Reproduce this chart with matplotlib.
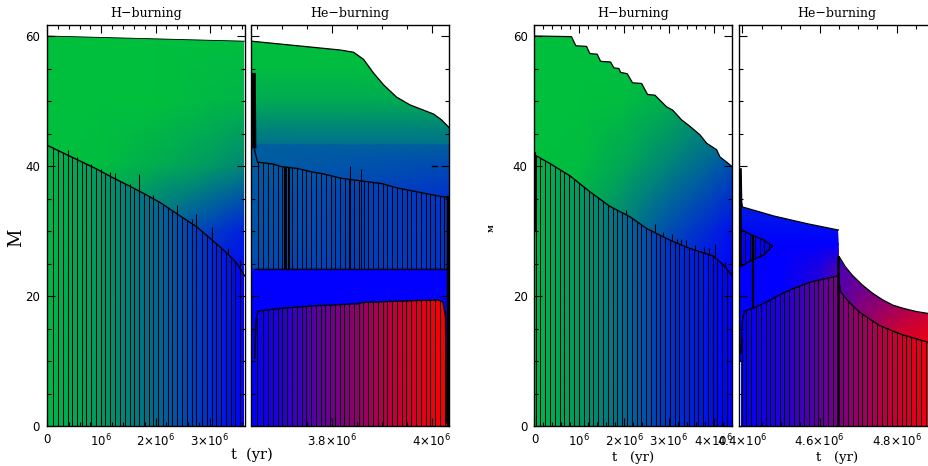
import numpy as np
import matplotlib
matplotlib.use("Agg")
import matplotlib.pyplot as plt
from matplotlib.colors import LinearSegmentedColormap
from matplotlib.patches import Polygon
from matplotlib.ticker import FixedLocator

plt.rcParams['mathtext.default'] = 'regular'
plt.rcParams['font.family'] = 'DejaVu Sans'

# t in units of 1e6 yr, M in solar masses, c: 0 green, 0.5 blue, 1 red
# ---- panel 1 : H-burning, left star
p1_surf_t = [0, 3.64]
p1_surf_m = [60.0, 59.2]
p1_core_t = [0, .3, .6, .9, 1.19, 1.5, 1.8, 2.1, 2.42, 2.75, 3.03, 3.33, 3.5, 3.64]
p1_core_m = [43.2, 42.0, 40.8, 39.6, 38.3, 37.0, 35.7, 34.3, 32.5, 30.7, 28.7, 26.5, 25.0, 23.1]
p1_hatch = [.11, .203, .289, .381, .467, .552, .638, .724, .816, .902, .988, 1.074, 1.166, 1.258,
            1.35, 1.436, 1.522, 1.608, 1.70, 1.786, 1.872, 1.958, 2.05, 2.136, 2.222, 2.308, 2.40,
            2.486, 2.578, 2.664, 2.75, 2.848, 2.94, 3.033, 3.118, 3.204, 3.296, 3.382, 3.462, 3.548]
p1_spike_t = [.11, .381, .552, .638, .816, .988, 1.166, 1.258, 1.522, 1.70, 1.958, 2.40, 2.664, 2.75, 3.033, 3.33, 3.548]
p1_spike_m = [42.9, 42.46, 41.4, 40.8, 40.3, 39.6, 39.1, 38.9, 37.3, 38.8, 35.5, 34.0, 31.9, 32.6, 30.6, 27.4, 25.5]
p1_core_ct = [0, 1, 2, 3, 3.64]
p1_core_c = [.02, .1, .22, .38, .5]
p1_env_t = [0, 1, 2, 3, 3.64]
p1_env_m = [20, 30, 40, 50, 61]
p1_env_c = [[0, .2, .35, .48, .5],
            [0, .1, .22, .34, .42],
            [0, .01, .05, .1, .15],
            [0, 0, 0, .02, .03],
            [0, 0, 0, 0, 0]]

# ---- panel 2 : He-burning, left star
p2_surf_t = [3.639, 3.816, 3.843, 3.863, 3.883, 3.903, 3.929, 3.956, 4.003, 4.019, 4.033, 4.034]
p2_surf_m = [59.2, 57.85, 57.5, 56.4, 54.3, 52.5, 50.6, 49.4, 48.0, 47.1, 46.0, 45.9]
p2_shell_t = [3.639, 3.645, 3.651, 3.682, 3.699, 3.732, 3.759, 3.782, 3.819, 3.859, 3.899, 3.932, 3.972, 4.012, 4.029, 4.034]
p2_shell_m = [54.0, 42.5, 40.6, 40.3, 39.9, 39.6, 39.1, 38.8, 38.1, 37.7, 37.3, 36.6, 36.0, 35.4, 35.2, 35.1]
p2_shell_base = 24.2
p2_shell_hatch = [3.651, 3.661, 3.671, 3.681, 3.691, 3.70, 3.703, 3.705, 3.708, 3.711, 3.713, 3.72,
                  3.73, 3.739, 3.747, 3.757, 3.767, 3.777, 3.787, 3.797, 3.805, 3.815, 3.825, 3.834,
                  3.844, 3.853, 3.863, 3.872, 3.881, 3.891, 3.901, 3.91, 3.919, 3.929, 3.939, 3.949,
                  3.958, 3.967, 3.977, 3.987, 3.996, 4.005, 4.015, 4.024]
p2_spike_t = [3.835, 3.857]
p2_spike_m = [40.0, 39.6]
p2_he_t = [3.6454, 3.648, 3.652, 3.699, 3.765, 3.852, 3.859, 3.965, 4.012, 4.022, 4.027, 4.029]
p2_he_m = [10.4, 16.3, 17.7, 18.1, 18.5, 18.8, 19.0, 19.3, 19.4, 19.1, 16.8, .5]
p2_he_hatch = [3.649, 3.662, 3.671, 3.681, 3.691, 3.70, 3.709, 3.719, 3.729, 3.739, 3.748, 3.757,
               3.767, 3.777, 3.786, 3.796, 3.805, 3.815, 3.824, 3.834, 3.843, 3.853, 3.862, 3.872,
               3.881, 3.891, 3.901, 3.91, 3.919, 3.929, 3.939, 3.948, 3.957, 3.967, 3.977, 3.987,
               3.996, 4.005, 4.015, 4.025]
p2_he_ct = [3.639, 3.7, 3.8, 3.9, 4.0, 4.034]
p2_he_c = [.5, .58, .72, .85, .97, 1.0]
p2_env_t = [3.639, 4.034]
p2_env_m = [0, 24.0, 24.4, 30, 36, 40, 43.3, 43.5, 46, 50, 55, 61]
p2_env_c = [[.5, .5], [.5, .5], [.3, .36], [.28, .36], [.27, .36], [.26, .31], [.25, .25],
            [.2, .2], [.15, .15], [.06, .06], [.01, .01], [0, 0]]

# ---- panel 3 : H-burning, right star
p3_surf_t = [0, .825, .922, 1.16, 1.234, 1.398, 1.473, 1.696, 1.77, 1.882, 1.919, 2.068, 2.187, 2.388,
             2.522, 2.685, 2.946, 3.08, 3.28, 3.467, 3.69, 3.839, 4.062, 4.136, 4.322, 4.405]
p3_surf_m = [60.0, 59.9, 58.5, 58.4, 57.3, 57.2, 56.1, 56.0, 55.1, 55.0, 54.4, 54.2, 52.8, 52.7,
             51.0, 50.9, 49.1, 48.6, 47.1, 46.1, 44.8, 43.5, 42.5, 41.4, 40.4, 39.9]
p3_core_t = [0, .029, .34, .788, 1.234, 1.68, 2.127, 2.5, 3.02, 3.467, 3.987, 4.21, 4.405]
p3_core_m = [41.9, 41.6, 40.4, 38.5, 36.05, 33.8, 32.2, 30.4, 28.6, 27.3, 26.15, 24.8, 23.2]
p3_hatch = [.029, .133, .245, .349, .453, .565, .669, .773, .885, .989, 1.093, 1.205, 1.309, 1.42,
            1.524, 1.629, 1.74, 1.844, 1.949, 2.06, 2.164, 2.276, 2.38, 2.484, 2.596, 2.7, 2.804,
            2.909, 3.013, 3.124, 3.228, 3.333, 3.444, 3.548, 3.652, 3.764, 3.868, 3.973, 4.077, 4.188, 4.292]
p3_spike_t = [2.03, 2.685, 2.87, 3.06, 3.18, 3.26, 3.39, 3.59, 3.78, 3.89, 4.02, 4.25]
p3_spike_m = [33.3, 31.1, 29.9, 29.6, 28.8, 28.7, 28.6, 27.9, 27.5, 27.4, 28.0, 25.2]
p3_core_ct = [0, 1, 2, 3, 4.405]
p3_core_c = [.02, .1, .22, .36, .5]
p3_env_t = [0, 1, 2, 3, 4, 4.405]
p3_env_m = [20, 30, 40, 50, 61]
p3_env_c = [[0, .1, .3, .42, .5, .5],
            [0, .05, .17, .3, .41, .46],
            [0, .01, .07, .16, .25, .3],
            [0, 0, .01, .05, .11, .15],
            [0, 0, 0, 0, .02, .05]]

# ---- panel 4 : He-burning, right star
p4_surf_t = [4.391, 4.394, 4.397, 4.398, 4.40, 4.482, 4.57, 4.649, 4.651, 4.667, 4.685, 4.711, 4.738,
             4.764, 4.79, 4.817, 4.852, 4.894, 4.91]
p4_surf_m = [39.7, 39.5, 38.0, 34.5, 33.7, 32.3, 31.1, 30.15, 26.05, 24.5, 23.2, 21.7, 20.4,
             19.4, 18.6, 18.1, 17.6, 17.2, 17.0]
p4_core_t = [4.396, 4.40, 4.405, 4.433, 4.469, 4.504, 4.526, 4.579, 4.649, 4.654, 4.676, 4.702, 4.729,
             4.755, 4.782, 4.817, 4.852, 4.894, 4.91]
p4_core_m = [11.2, 16.3, 17.7, 18.25, 19.3, 20.4, 21.0, 22.2, 23.1, 20.7, 19.1, 17.6, 16.5,
             15.5, 14.8, 14.0, 13.4, 12.7, 12.5]
p4_hatch = [4.398, 4.41, 4.423, 4.435, 4.447, 4.46, 4.472, 4.484, 4.498, 4.509, 4.521, 4.535, 4.547,
            4.559, 4.573, 4.585, 4.597, 4.61, 4.623, 4.635, 4.648, 4.661, 4.673, 4.686, 4.699, 4.711,
            4.724, 4.737, 4.749, 4.762, 4.775, 4.787, 4.8, 4.813, 4.825, 4.838, 4.85, 4.863, 4.876, 4.888]
p4_bump_t = [4.398, 4.42, 4.455, 4.478, 4.455, 4.42, 4.398]
p4_bump_m = [30.15, 29.5, 28.6, 27.7, 26.3, 25.4, 24.6]
p4_bump_hatch = [4.407, 4.42, 4.433, 4.445, 4.457, 4.469]
p4_core_ct = [4.391, 4.5, 4.649, 4.8, 4.91]
p4_core_c = [.5, .57, .74, .9, 1.0]
p4_env_t = [4.391, 4.5, 4.6, 4.649, 4.7, 4.8, 4.91]
p4_env_m = [10, 16, 20, 24, 28, 32, 41]
p4_env_c = [[.5, .5, .55, .66, .86, .98, 1.0],
            [.5, .5, .56, .66, .78, .87, .93],
            [.5, .5, .57, .66, .73, .78, .84],
            [.5, .5, .56, .66, .68, .72, .78],
            [.5, .5, .5, .5, .5, .5, .5],
            [.45, .45, .45, .45, .45, .45, .45],
            [.36, .36, .36, .36, .36, .36, .36]]

cmap = LinearSegmentedColormap.from_list('comp', [(0, (0, .75, .24)), (.5, (0, 0, 1)), (1, (1, 0, 0))])


def field(ax, t, m, c, poly):
    # smooth colour field cut to the region between the mass curves
    tt, mm = np.meshgrid(t, m)
    mesh = ax.pcolormesh(tt, mm, np.array(c), shading='gouraud', cmap=cmap, vmin=0, vmax=1, zorder=1)
    mesh.set_clip_path(Polygon(poly, closed=True, transform=ax.transData))


def region(top_t, top_m, bot_t, bot_m):
    return list(zip(top_t, top_m)) + list(zip(bot_t[::-1], bot_m[::-1]))


def bands(ax, t, c, top_t, top_m):
    poly = [(top_t[0], 0)] + list(zip(top_t, top_m)) + [(top_t[-1], 0)]
    field(ax, t, [0, 61], [c, c], poly)


def setup(ax, xlim, major, labels, minor):
    ax.set_xlim(*xlim)
    ax.set_ylim(0, 61.77)
    ax.set_xticks(major, labels)
    ax.xaxis.set_minor_locator(FixedLocator(minor))
    ax.set_yticks([0, 20, 40, 60])
    ax.yaxis.set_minor_locator(FixedLocator([5, 10, 15, 25, 30, 35, 45, 50, 55]))
    ax.tick_params(which='major', direction='in', top=True, right=True, length=5.5, width=.8, labelsize=8.5, pad=5)
    ax.tick_params(which='minor', direction='in', top=True, right=True, length=2.8, width=.8)
    for s in ax.spines.values():
        s.set_linewidth(1.0)
        s.set_zorder(5)


def px_axes(fig, left, right):
    return fig.add_axes([left / 929, 40 / 466, (right - left) / 929, 401.5 / 466])


fig = plt.figure(figsize=(9.29, 4.66), dpi=100)
ax1 = px_axes(fig, 47, 244.5)
ax2 = px_axes(fig, 251.5, 449)
ax3 = px_axes(fig, 534.5, 732)
ax4 = px_axes(fig, 739, 939)

LW = .75

# panel 1
field(ax1, p1_env_t, p1_env_m, p1_env_c, region(p1_surf_t, p1_surf_m, p1_core_t, p1_core_m))
bands(ax1, p1_core_ct, p1_core_c, p1_core_t, p1_core_m)
ax1.vlines(p1_hatch, 0, np.interp(p1_hatch, p1_core_t, p1_core_m), color='k', lw=LW, zorder=2)
ax1.vlines(p1_spike_t, np.interp(p1_spike_t, p1_core_t, p1_core_m), p1_spike_m, color='k', lw=LW, zorder=2)
ax1.plot(p1_core_t, p1_core_m, color='k', lw=1.0, zorder=3)
ax1.plot(p1_surf_t, p1_surf_m, color='k', lw=.6, zorder=3)
setup(ax1, (0, 3.64), [0, 1, 2, 3], ['0', r'$10^{6}$', r'$2{\times}10^{6}$', r'$3{\times}10^{6}$'],
      [.2, .4, .6, .8, 1.2, 1.4, 1.6, 1.8, 2.2, 2.4, 2.6, 2.8, 3.2, 3.4, 3.6])

# panel 2
field(ax2, p2_env_t, p2_env_m, p2_env_c, [(p2_surf_t[0], 0)] + list(zip(p2_surf_t, p2_surf_m)) + [(p2_surf_t[-1], 0)])
bands(ax2, p2_he_ct, p2_he_c, p2_he_t, p2_he_m)
ax2.vlines(p2_shell_hatch, p2_shell_base, np.interp(p2_shell_hatch, p2_shell_t, p2_shell_m), color='k', lw=LW, zorder=2)
ax2.vlines(p2_spike_t, 24.2, p2_spike_m, color='k', lw=LW, zorder=2)
ax2.vlines(p2_he_hatch, 0, np.interp(p2_he_hatch, p2_he_t, p2_he_m), color='k', lw=LW, zorder=2)
ax2.plot(p2_shell_t[1:], p2_shell_m[1:], color='k', lw=1.0, zorder=3)
ax2.plot([3.6435, 3.6445], [54, 43], color='k', lw=3, zorder=3)
ax2.plot([3.645, 4.034], [p2_shell_base, p2_shell_base], color='k', lw=1.0, zorder=3)
ax2.plot(p2_he_t, p2_he_m, color='k', lw=1.0, zorder=3)
ax2.plot([4.032, 4.032], [0, 35.2], color='k', lw=2.5, zorder=3)
ax2.plot([3.999, 4.01], [40, 40], color='k', lw=1, zorder=3)
ax2.plot(p2_surf_t, p2_surf_m, color='k', lw=.9, zorder=3)
setup(ax2, (3.639, 4.034), [3.8, 4.0], [r'$3.8{\times}10^{6}$', r'$4{\times}10^{6}$'],
      [3.65, 3.7, 3.75, 3.85, 3.9, 3.95])
ax2.set_yticklabels([])

# panel 3
field(ax3, p3_env_t, p3_env_m, p3_env_c, region(p3_surf_t, p3_surf_m, p3_core_t, p3_core_m))
bands(ax3, p3_core_ct, p3_core_c, p3_core_t, p3_core_m)
ax3.vlines(p3_hatch, 0, np.interp(p3_hatch, p3_core_t, p3_core_m), color='k', lw=LW, zorder=2)
ax3.vlines(p3_spike_t, np.interp(p3_spike_t, p3_core_t, p3_core_m), p3_spike_m, color='k', lw=LW, zorder=2)
ax3.plot(p3_core_t, p3_core_m, color='k', lw=1.0, zorder=3)
ax3.plot(p3_surf_t, p3_surf_m, color='k', lw=.9, zorder=3)
ax3.plot([.01, .01], [30, 42], color='k', lw=1.5, zorder=3)
setup(ax3, (0, 4.405), [0, 1, 2, 3, 4], ['0', r'$10^{6}$', r'$2{\times}10^{6}$', r'$3{\times}10^{6}$', r'$4{\times}10^{6}$'],
      [.2, .4, .6, .8, 1.2, 1.4, 1.6, 1.8, 2.2, 2.4, 2.6, 2.8, 3.2, 3.4, 3.6, 3.8, 4.2, 4.4])

# panel 4
field(ax4, p4_env_t, p4_env_m, p4_env_c, [(p4_surf_t[0], 0)] + list(zip(p4_surf_t, p4_surf_m)) + [(p4_surf_t[-1], 0)])
bands(ax4, p4_core_ct, p4_core_c, p4_core_t, p4_core_m)
ax4.vlines(p4_hatch, 0, np.interp(p4_hatch, p4_core_t, p4_core_m), color='k', lw=LW, zorder=2)
ax4.vlines(p4_bump_hatch, np.interp(p4_bump_hatch, p4_bump_t[3:][::-1], p4_bump_m[3:][::-1]),
           np.interp(p4_bump_hatch, p4_bump_t[:4], p4_bump_m[:4]), color='k', lw=LW, zorder=2)
ax4.plot(p4_bump_t, p4_bump_m, color='k', lw=1.0, zorder=3)
ax4.plot([4.427, 4.427], [18.2, 29.2], color='k', lw=1.6, zorder=3)
ax4.plot([4.648, 4.648], [0, 26], color='k', lw=1.8, zorder=3)
ax4.plot([4.395, 4.395], [24.6, 39.5], color='k', lw=1.2, zorder=3)
ax4.plot(p4_core_t, p4_core_m, color='k', lw=1.0, zorder=3)
ax4.plot(p4_surf_t[:8], p4_surf_m[:8], color='k', lw=.9, zorder=3)
ax4.plot(p4_surf_t[8:], p4_surf_m[8:], color='k', lw=.9, zorder=3)
setup(ax4, (4.391, 4.91), [4.4, 4.6, 4.8], [r'$4.4{\times}10^{6}$', r'$4.6{\times}10^{6}$', r'$4.8{\times}10^{6}$'],
      [4.45, 4.5, 4.55, 4.65, 4.7, 4.75, 4.85, 4.9])
ax4.set_yticklabels([])


def label(x, y, s, size, **kw):
    fig.text(x / 929, 1 - y / 466, s, fontsize=size, ha='center', va='center', family='DejaVu Serif', **kw)


label(146, 14, 'H\u2212burning', 9)
label(350, 14, 'He\u2212burning', 9)
label(633, 13.5, 'H\u2212burning', 9)
label(837, 13.5, 'He\u2212burning', 9)
label(252, 455, 't  (yr)', 10.5)
label(633, 457, 't   (yr)', 9.5)
label(837, 457, 't   (yr)', 9.5)
label(16, 238, 'M', 13, rotation=90)
label(492, 228, 'M', 5, rotation=90, fontweight='bold')

fig.savefig('out.png', dpi=100)
